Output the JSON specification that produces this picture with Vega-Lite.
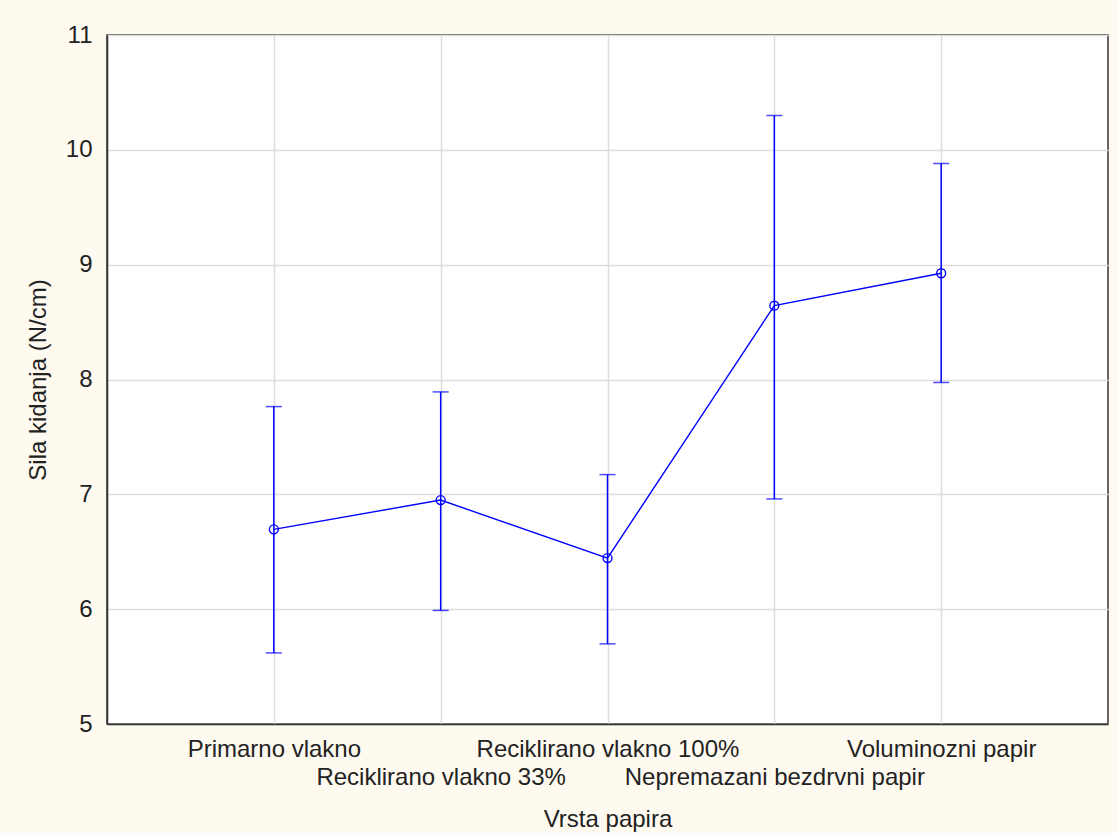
{
  "$schema": "https://vega.github.io/schema/vega-lite/v6.json",
  "autosize": {"type": "none"},
  "padding": {"left": 107, "top": 35, "right": 11, "bottom": 109},
  "width": 1001,
  "height": 689,
  "background": "#fffaf0",
  "config": {
    "view": {"fill": "#ffffff", "stroke": "#333333", "strokeWidth": 1.5},
    "font": "Liberation Sans"
  },
  "data": {
    "values": [
      {"vrsta": "Primarno vlakno", "mean": 6.695, "lo": 5.619, "hi": 7.764},
      {"vrsta": "Reciklirano vlakno 33%", "mean": 6.95, "lo": 5.989, "hi": 7.892},
      {"vrsta": "Reciklirano vlakno 100%", "mean": 6.445, "lo": 5.698, "hi": 7.172},
      {"vrsta": "Nepremazani bezdrvni papir", "mean": 8.643, "lo": 6.96, "hi": 10.299},
      {"vrsta": "Voluminozni papir", "mean": 8.925, "lo": 7.974, "hi": 9.881}
    ]
  },
  "encoding": {
    "x": {
      "field": "vrsta",
      "type": "nominal",
      "sort": null,
      "scale": {"type": "point", "padding": 1},
      "axis": {
        "title": "Vrsta papira",
        "titleFont": "Liberation Sans",
        "titleFontSize": 24,
        "titleFontWeight": "normal",
        "titleColor": "#222222",
        "titlePadding": 18,
        "labelAngle": 0,
        "labelFontSize": 24,
        "labelColor": "#222222",
        "labelPadding": 13,
        "labelLineHeight": 28,
        "labelLimit": 0,
        "labelOverlap": false,
        "labelBound": false,
        "labelExpr": "indexof(['Reciklirano vlakno 33%','Nepremazani bezdrvni papir'], datum.value) >= 0 ? ['', datum.label] : datum.label",
        "domainColor": "#333333",
        "domainWidth": 1.5,
        "ticks": false,
        "grid": true,
        "gridColor": "#dddddd",
        "gridWidth": 1.5
      }
    }
  },
  "layer": [
    {
      "mark": {"type": "rule", "color": "#0000ff", "strokeWidth": 1.5},
      "encoding": {
        "y": {
          "field": "lo",
          "type": "quantitative",
          "scale": {"domain": [5, 11], "nice": false, "zero": false},
          "axis": {
            "title": "Sila kidanja (N/cm)",
            "titleFont": "Liberation Sans",
            "titleFontSize": 24,
            "titleFontWeight": "normal",
            "titleColor": "#222222",
            "titlePadding": 15,
            "values": [5, 6, 7, 8, 9, 10, 11],
            "format": "d",
            "labelFontSize": 24,
            "labelColor": "#222222",
            "labelPadding": 15,
            "ticks": false,
            "domainColor": "#333333",
            "domainWidth": 1.5,
            "grid": true,
            "gridColor": "#dddddd",
            "gridWidth": 1.5
          }
        },
        "y2": {"field": "hi"}
      }
    },
    {
      "mark": {"type": "tick", "color": "#0000ff", "size": 16, "thickness": 1.5},
      "encoding": {"y": {"field": "lo", "type": "quantitative"}}
    },
    {
      "mark": {"type": "tick", "color": "#0000ff", "size": 16, "thickness": 1.5},
      "encoding": {"y": {"field": "hi", "type": "quantitative"}}
    },
    {
      "mark": {"type": "line", "color": "#0000ff", "strokeWidth": 1.4},
      "encoding": {"y": {"field": "mean", "type": "quantitative"}}
    },
    {
      "mark": {"type": "point", "shape": "circle", "color": "#0000ff", "filled": false, "size": 80, "strokeWidth": 1.4, "opacity": 1},
      "encoding": {"y": {"field": "mean", "type": "quantitative"}}
    }
  ]
}
